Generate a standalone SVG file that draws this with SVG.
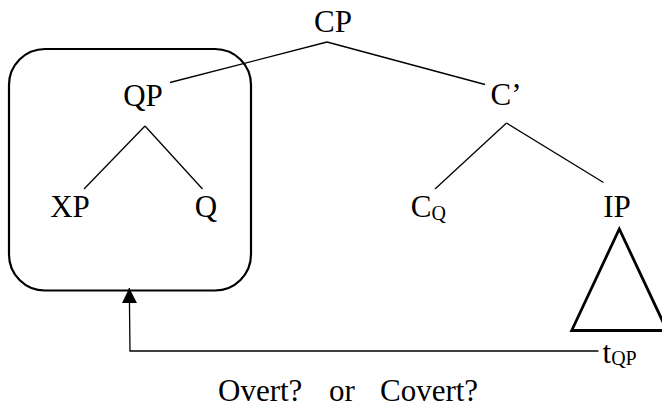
<svg xmlns="http://www.w3.org/2000/svg" width="662" height="407" viewBox="0 0 662 407">
<defs>
<style>
.t{font-family:'Liberation Serif','Times New Roman',Times,serif;font-size:31px;fill:#000}
.sub{font-size:20px}
.ln{stroke:#000;stroke-width:1.3;fill:none}
</style>
<marker id="ah" viewBox="0 0 10 10" refX="10" refY="5" markerWidth="15" markerHeight="15" markerUnits="userSpaceOnUse" orient="auto">
<path d="M0,0 L10,5 L0,10 Z" fill="#000"/>
</marker>
</defs>
<rect width="662" height="407" fill="#fff"/>
<g id="connectors">
<line class="ln" x1="327" y1="42" x2="170" y2="82.5"/>
<line class="ln" x1="327" y1="42" x2="485" y2="84.5"/>
<line class="ln" x1="145" y1="126" x2="84" y2="189"/>
<line class="ln" x1="145" y1="126" x2="202.5" y2="189"/>
<line class="ln" x1="506.5" y1="123" x2="435" y2="189"/>
<line class="ln" x1="506.5" y1="123" x2="603.5" y2="182.5"/>
<polyline class="ln" points="598.5,351 130,351 129.3,288" marker-end="url(#ah)"/>
</g>
<g id="box"><rect x="9" y="49" width="242" height="241.5" rx="36" ry="36" fill="none" stroke="#000" stroke-width="2.2"/></g>
<g font-family="Liberation Serif, serif" font-size="31">
<g id="CP"><text class="t" x="333" y="32" text-anchor="middle">CP</text></g>
<g id="QP"><text class="t" x="143" y="106" text-anchor="middle">QP</text></g>
<g id="Cbar"><text class="t" x="506" y="105" text-anchor="middle">C’</text></g>
<g id="XP"><text class="t" x="70" y="216.5" text-anchor="middle">XP</text></g>
<g id="Q"><text class="t" x="206" y="216.5" text-anchor="middle">Q</text></g>
<g id="CQ"><text class="t" x="410.7" y="216.5">C<tspan class="sub" dy="3.5">Q</tspan></text></g>
<g id="IP"><text class="t" x="617" y="216.5" text-anchor="middle">IP</text>
<polygon points="619.3,229 571.7,330.5 667,330.5" fill="none" stroke="#000" stroke-width="2.8"/></g>
<g id="tQP"><text class="t" x="602.5" y="363">t<tspan class="sub" dy="2">QP</tspan></text></g>
<g id="caption"><text class="t" y="401"><tspan x="218">Overt?</tspan><tspan x="329">or</tspan><tspan x="380">Covert?</tspan></text></g>
</g>
</svg>
